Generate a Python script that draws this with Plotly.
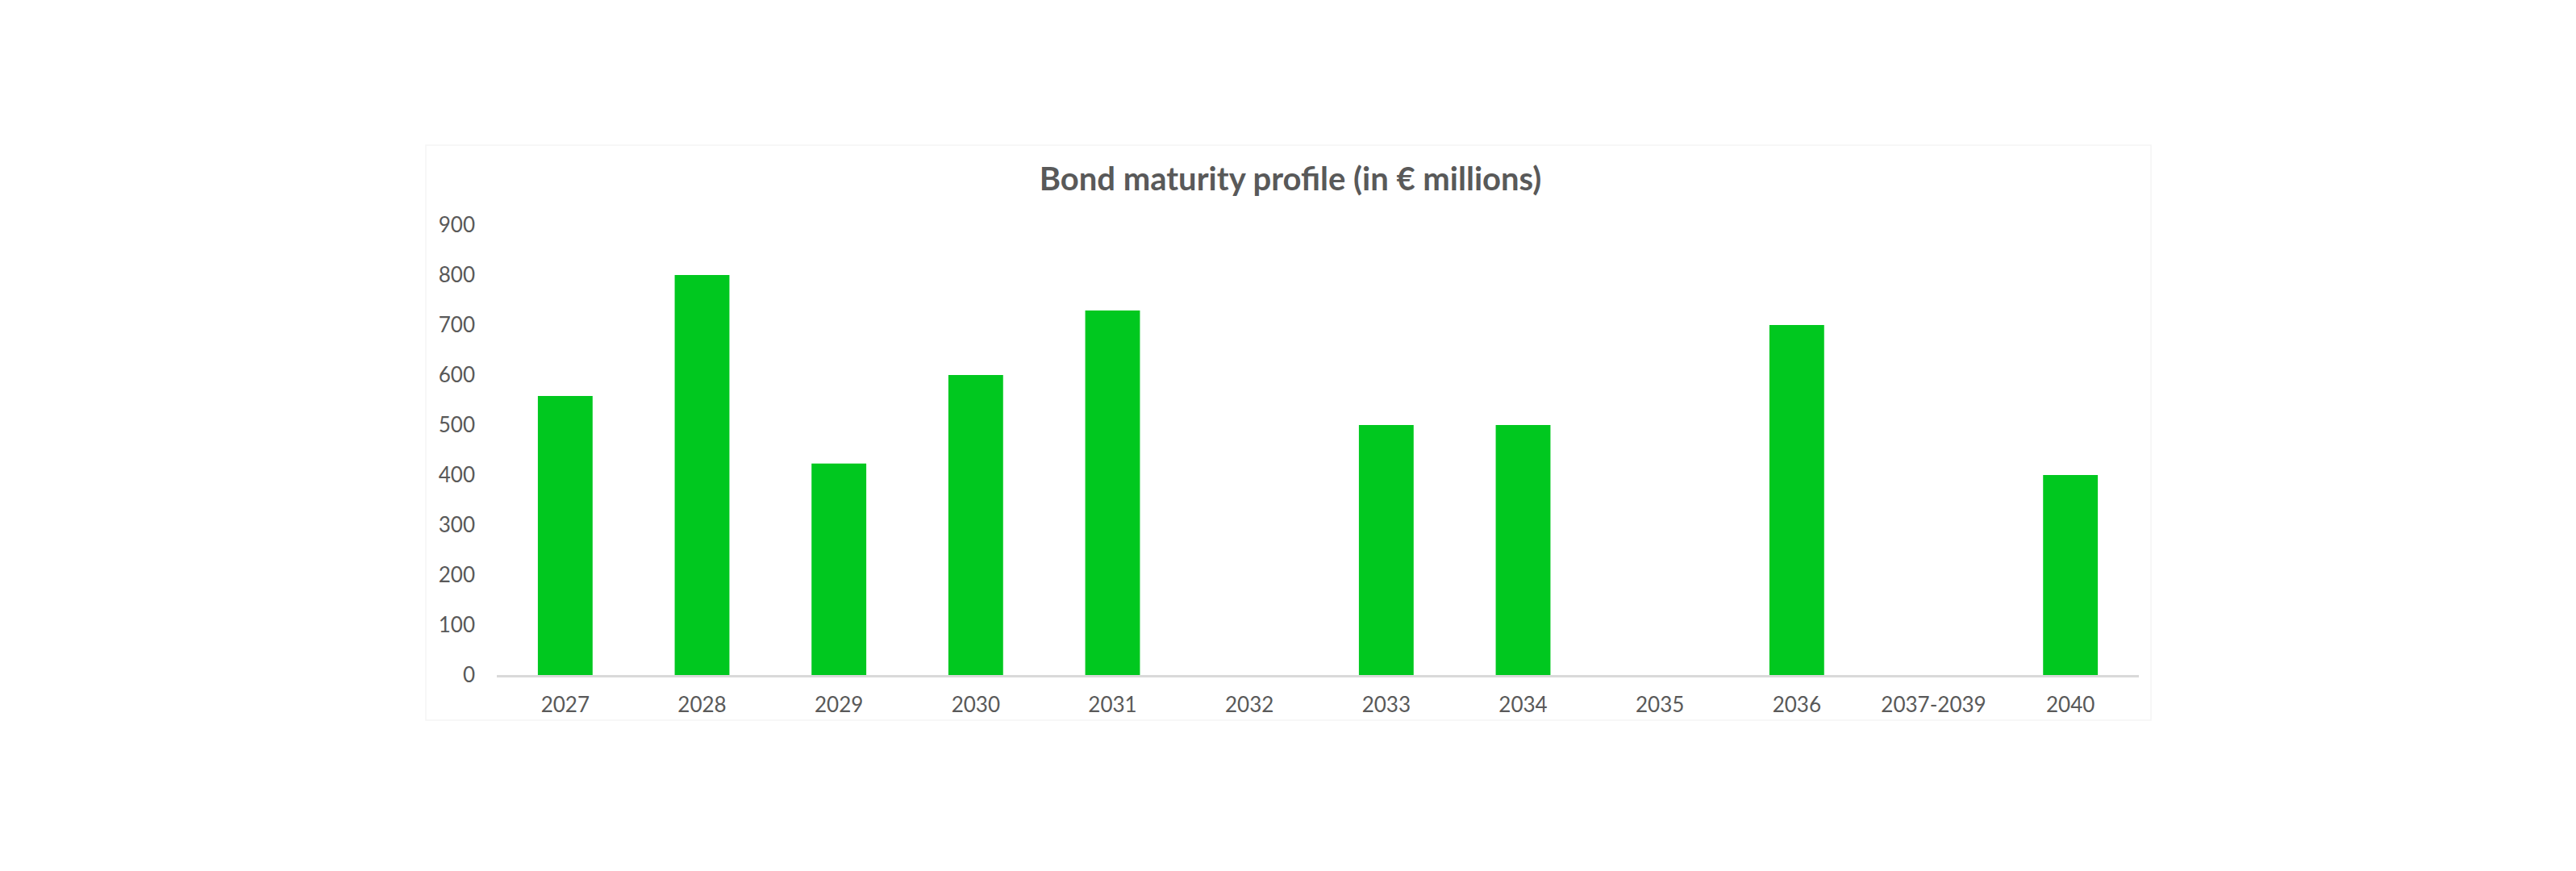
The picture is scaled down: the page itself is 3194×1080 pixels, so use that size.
import plotly.graph_objects as go

# bond maturities, values (EUR millions)
years = ["2027", "2028", "2029", "2030", "2031", "2032", "2033", "2034",
         "2035", "2036", "2037-2039", "2040"]
amounts = [558, 800, 423, 600, 729, 0, 500, 500, 0, 700, 0, 400]
y_ticks = [0, 100, 200, 300, 400, 500, 600, 700, 800, 900]

W, H = 3194, 1080
OFF = 8  # page body margin the browser adds around the figure
green = "#00C81F"
grey_text = "#595959"

# target pixel positions in the page
left, right, top, bottom = 616, 2652, 279, 837

fig = go.Figure()
fig.add_trace(go.Bar(
    x=years,
    y=amounts,
    marker=dict(color=green, line=dict(width=0)),
    hoverinfo="x+y",
))

fig.update_layout(
    width=W,
    height=H,
    paper_bgcolor="white",
    plot_bgcolor="white",
    margin=dict(l=left - OFF, r=W - right + OFF, t=top - OFF, b=H - bottom + OFF),
    bargap=0.6,
    showlegend=False,
    title=dict(
        text="<b>Bond maturity profile (in € millions)</b>",
        font=dict(family="Lato", size=40, color=grey_text),
        xref="container", x=(1600 - OFF) / W, xanchor="center",
        yref="container", y=1 - (222 - OFF) / H, yanchor="middle",
    ),
    font=dict(family="Lato", color=grey_text),
)

fig.update_xaxes(
    type="category",
    showgrid=False,
    showline=True,
    linecolor="#d9d9d9",
    linewidth=3,
    ticks="",
    ticklabelstandoff=12,
    tickfont=dict(family="Lato", size=26, color=grey_text),
)
fig.update_yaxes(
    range=[0, 900],
    tickvals=y_ticks,
    showgrid=False,
    zeroline=False,
    showline=False,
    ticks="",
    ticklabelstandoff=26,
    tickfont=dict(family="Lato", size=26, color=grey_text),
)

# faint outline of the chart area
plot_w = right - left
plot_h = bottom - top
fig.add_shape(
    type="rect", xref="paper", yref="paper",
    x0=(528 - left) / plot_w, x1=(2667 - left) / plot_w,
    y0=(bottom - 893) / plot_h, y1=(bottom - 180) / plot_h,
    line=dict(color="#f5f5f5", width=1.5),
    fillcolor="rgba(0,0,0,0)",
    layer="below",
)

fig.write_html("out.html")
